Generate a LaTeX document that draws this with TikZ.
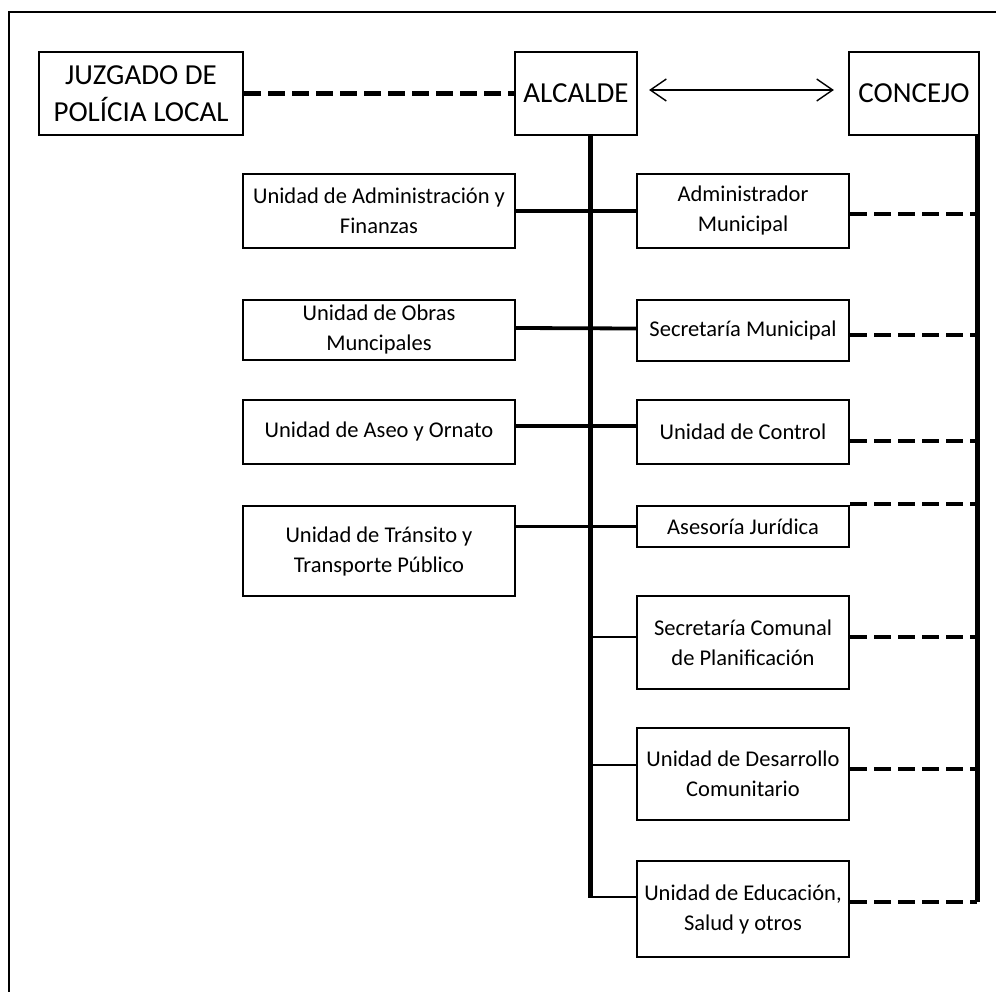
\documentclass[tikz,border=0pt]{standalone}
\usepackage{fontspec}
\setmainfont{Carlito}
\usetikzlibrary{arrows.meta}
\begin{document}
\begin{tikzpicture}[x=1pt,y=-1pt,
  box/.style={draw, line width=2.2pt, inner sep=0pt, align=center,
    font=\fontsize{22.5}{30}\selectfont},
  bigbox/.style={box, font=\fontsize{29}{37}\selectfont},
  lbox/.style={box, minimum width=272pt},
  rbox/.style={box, minimum width=212pt},
  thickline/.style={line width=3.8pt},
  thinline/.style={line width=2pt},
  trunkline/.style={line width=5pt},
  dashline/.style={line width=4.6pt, dash pattern=on 17pt off 7pt},
  frameline/.style={line width=2.4pt}]
\useasboundingbox (0,0) rectangle (996,992);
% frame
\coordinate (f1) at (9,992);
\coordinate (f2) at (9,12);
\coordinate (f3) at (996,12);
\draw[frameline] (f1) -- (f2) -- (f3);
% top row
\node[bigbox, minimum width=204pt, minimum height=83pt] (juz) at (141,93.5) {JUZGADO DE\\POLÍCIA LOCAL};
\node[bigbox, minimum width=122pt, minimum height=83pt] (alc) at (576,93.5) {ALCALDE};
\node[bigbox, minimum width=130pt, minimum height=83pt] (con) at (914,93.5) {CONCEJO};
% left column
\node[lbox, minimum height=74pt] (L1) at (379,211) {Unidad de Administración y\\Finanzas};
\node[lbox, minimum height=60pt] (L2) at (379,330) {Unidad de Obras\\Muncipales};
\node[lbox, minimum height=64pt] (L3) at (379,432) {Unidad de Aseo y Ornato};
\node[lbox, minimum height=90pt] (L4) at (379,551) {Unidad de Tránsito y\\Transporte Público};
% right column
\node[rbox, minimum height=74pt] (R1) at (743,211) {Administrador\\Municipal};
\node[rbox, minimum height=61pt] (R2) at (743,330.5) {Secretaría Municipal};
\node[rbox, minimum height=64pt] (R3) at (743,432) {Unidad de Control};
\node[rbox, minimum height=41pt] (R4) at (743,526.5) {Asesoría Jurídica};
\node[rbox, minimum height=93pt] (R5) at (743,642.5) {Secretaría Comunal\\de Planificación};
\node[rbox, minimum height=92pt] (R6) at (743,774) {Unidad de Desarrollo\\Comunitario};
\node[rbox, minimum height=96pt] (R7) at (743,909) {Unidad de Educación,\\Salud y otros};
% trunk and council line
\coordinate (tb) at (590,898);
\coordinate (cb) at (977,902);
\draw[trunkline] (alc.south -| tb) -- (tb);
\draw[trunkline] (con.south -| cb) -- (cb);
% top connections
\draw[dashline] (juz.east) -- (alc.west);
\draw[line width=1.4pt, {Straight Barb[length=16pt,width=22pt]}-{Straight Barb[length=16pt,width=22pt]}, shorten <=11pt, shorten >=14pt]
  ([yshift=3.5pt]alc.east) -- ([yshift=3.5pt]con.west);
% left-right connections
\draw[thickline] (L1.east) -- (R1.west);
\draw[thickline] ([yshift=2pt]L2.east) -- ([yshift=2pt]R2.west);
\draw[thickline] ([yshift=6pt]L3.east) -- ([yshift=6pt]R3.west);
\draw[thickline] (L4.east |- R4.west) -- (R4.west);
% thin connections
\draw[thinline] ([yshift=5.5pt]R5.west -| tb) -- ([yshift=5.5pt]R5.west);
\draw[thinline] ([yshift=9pt]R6.west -| tb) -- ([yshift=9pt]R6.west);
\draw[thinline] ([yshift=12pt]R7.west -| tb) -- ([yshift=12pt]R7.west);
% dashed to council
\draw[dashline] ([yshift=-3pt]R1.east) -- ([yshift=-3pt]R1.east -| cb);
\draw[dashline] ([yshift=-4.5pt]R2.east) -- ([yshift=-4.5pt]R2.east -| cb);
\draw[dashline] ([yshift=-9pt]R3.east) -- ([yshift=-9pt]R3.east -| cb);
\draw[dashline] ([yshift=1pt]R4.north east) -- ([yshift=1pt]R4.north east -| cb);
\draw[dashline] ([yshift=5.5pt]R5.east) -- ([yshift=5.5pt]R5.east -| cb);
\draw[dashline] ([yshift=5pt]R6.east) -- ([yshift=5pt]R6.east -| cb);
\draw[dashline] ([yshift=7pt]R7.east) -- ([yshift=7pt]R7.east -| cb);
\end{tikzpicture}
\end{document}
